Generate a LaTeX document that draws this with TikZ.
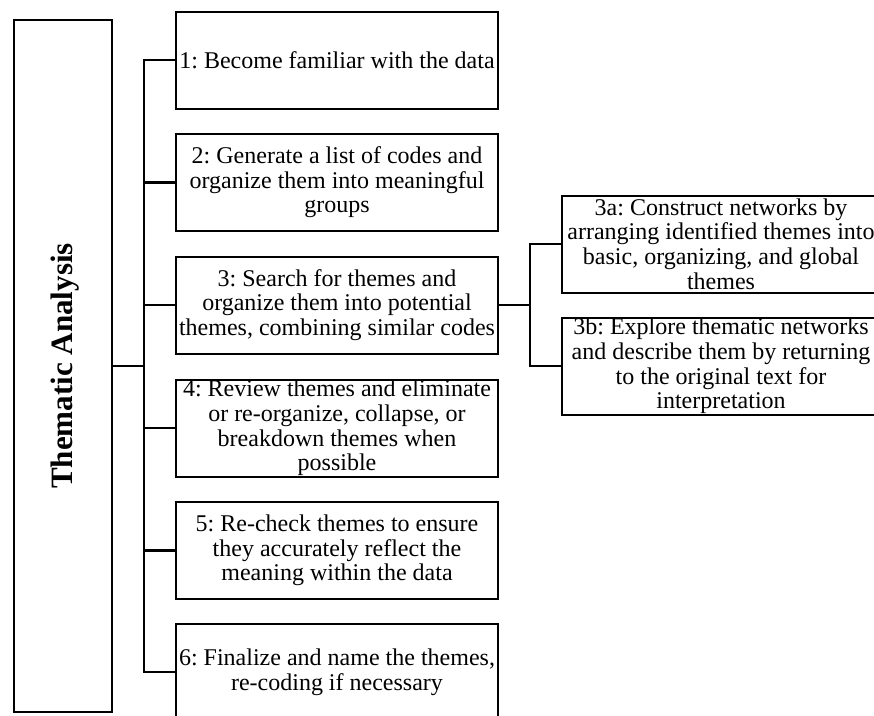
\documentclass[tikz,border=0pt]{standalone}
\usepackage{fontspec}
\setmainfont{Liberation Serif}
\frenchspacing
\begin{document}
\begin{tikzpicture}[x=0.75pt,y=-0.75pt,
  stepbox/.style={draw, line width=1.5pt, inner sep=0pt, align=center,
    minimum width=241.5pt, minimum height=72.75pt,
    font=\fontsize{18}{18.4}\selectfont},
  subbox/.style={stepbox, minimum width=238.5pt},
  conn/.style={line width=1.6pt, line join=miter}]
\useasboundingbox (0,0) rectangle (874,715);

% title column
\node[draw, line width=1.5pt, minimum width=73.5pt, minimum height=519pt] (title) at (63,366) {};
\node[rotate=90, anchor=base, inner sep=0pt,
      font=\bfseries\fontsize{23.3}{26}\selectfont] (titletext) at (72,366) {Thematic Analysis};

% main steps
\node[stepbox] (b1) at (337,60) {1: Become familiar with the data};
\node[stepbox] (b2) at (337,182.5) {2: Generate a list of codes and\\organize them into meaningful\\groups};
\node[stepbox] (b3) at (337,305) {3: Search for themes and\\organize them into potential\\themes, combining similar codes};
\node[stepbox] (b4) at (337,428) {4: Review themes and eliminate\\or re-organize, collapse, or\\breakdown themes when\\possible};
\node[stepbox] (b5) at (337,550.5) {5: Re-check themes to ensure\\they accurately reflect the\\meaning within the data};
\node[stepbox] (b6) at (337,672) {6: Finalize and name the themes,\\re-coding if necessary};

% sub-steps of step 3
\node[subbox] (b3a) at (721,244) {3a: Construct networks by\\arranging identified themes into\\basic, organizing, and global\\themes};
\node[subbox] (b3b) at (721,366) {3b: Explore thematic networks\\and describe them by returning\\to the original text for\\interpretation};

% connectors
\coordinate (trunk) at (144,0);
\coordinate (fork) at (530,0);
\draw[conn] (title.east) -- (trunk |- title.east);
\draw[conn] (b1.west) -- (trunk |- b1.west) -- (trunk |- b6.west) -- (b6.west);
\foreach \b in {b2,b3,b4,b5} \draw[conn] (\b.west) -- (trunk |- \b.west);
\draw[conn] (b3.east) -- (fork |- b3.east);
\draw[conn] (b3a.west) -- (fork |- b3a.west) -- (fork |- b3b.west) -- (b3b.west);
\end{tikzpicture}
\end{document}
